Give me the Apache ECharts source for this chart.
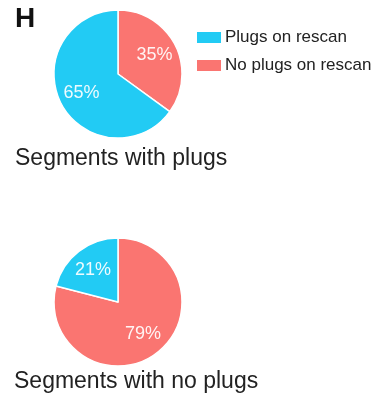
<!DOCTYPE html>
<html>
<head>
<meta charset="utf-8">
<script src="https://cdn.jsdelivr.net/npm/echarts@6/dist/echarts.min.js"></script>
<style>
  html, body { margin: 0; padding: 0; background: #fff; }
  #chart { width: 377px; height: 400px; }
</style>
</head>
<body>
<div id="chart"></div>
<script>
// Rescan outcome categories
const categories = ['No plugs on rescan', 'Plugs on rescan'];
const legendOrder = ['Plugs on rescan', 'No plugs on rescan'];
// Percent of segments, listed clockwise from 12 o'clock
const withPlugsValues = [35, 65];
const noPlugsValues = [79, 21];
const panelTitles = ['Segments with plugs', 'Segments with no plugs'];
const panelLetter = 'H';

const colorOf = {
  'Plugs on rescan': '#22CBF4',
  'No plugs on rescan': '#FA7571'
};

const pieCenters = [[118, 74], [118, 302]];
const FONT = 'Liberation Sans, Arial, sans-serif';

function pieData(values) {
  return categories.map((name, i) => ({
    name: name,
    value: values[i],
    itemStyle: { color: colorOf[name] }
  }));
}

// Push the inside labels a little further out from the pie centre
function spreadLabel(params) {
  const c = pieCenters[params.seriesIndex];
  const r = params.labelRect;
  const lx = r.x + r.width / 2;
  const ly = r.y + r.height / 2;
  const k = 0.17;
  return { dx: (lx - c[0]) * k, dy: (ly - c[1]) * k };
}

function pieSeries(values, center) {
  return {
    type: 'pie',
    center: center,
    radius: 64,
    startAngle: 90,
    clockwise: true,
    animation: false,
    silent: true,
    itemStyle: { borderColor: '#fff', borderWidth: 1.5 },
    label: {
      show: true,
      position: 'inside',
      formatter: '{c}%',
      color: 'rgba(255,255,255,0.92)',
      fontSize: 18,
      fontFamily: FONT
    },
    labelLine: { show: false },
    labelLayout: spreadLabel,
    data: pieData(values)
  };
}

const chart = echarts.init(document.getElementById('chart'), null, { renderer: 'canvas' });
chart.setOption({
  backgroundColor: '#fff',
  animation: false,
  legend: {
    orient: 'vertical',
    left: 195,
    top: 29,
    padding: 0,
    itemWidth: 26,
    itemHeight: 13,
    itemGap: 11,
    icon: 'rect',
    data: legendOrder,
    selectedMode: false,
    textStyle: {
      fontSize: 17,
      color: '#222',
      fontFamily: FONT,
      padding: [0, 0, 0, -2]
    }
  },
  graphic: [
    {
      type: 'text', x: 15, y: 19,
      style: {
        text: panelLetter, fontSize: 28, fontWeight: 'bold', fill: '#111',
        fontFamily: FONT, verticalAlign: 'middle'
      }
    },
    {
      type: 'text', x: 15, y: 159,
      style: {
        text: panelTitles[0], fontSize: 23, fill: '#222',
        fontFamily: FONT, verticalAlign: 'middle'
      }
    },
    {
      type: 'text', x: 14, y: 382,
      style: {
        text: panelTitles[1], fontSize: 23, fill: '#222',
        fontFamily: FONT, verticalAlign: 'middle'
      }
    }
  ],
  series: [
    pieSeries(withPlugsValues, pieCenters[0]),
    pieSeries(noPlugsValues, pieCenters[1])
  ]
});
</script>
</body>
</html>
